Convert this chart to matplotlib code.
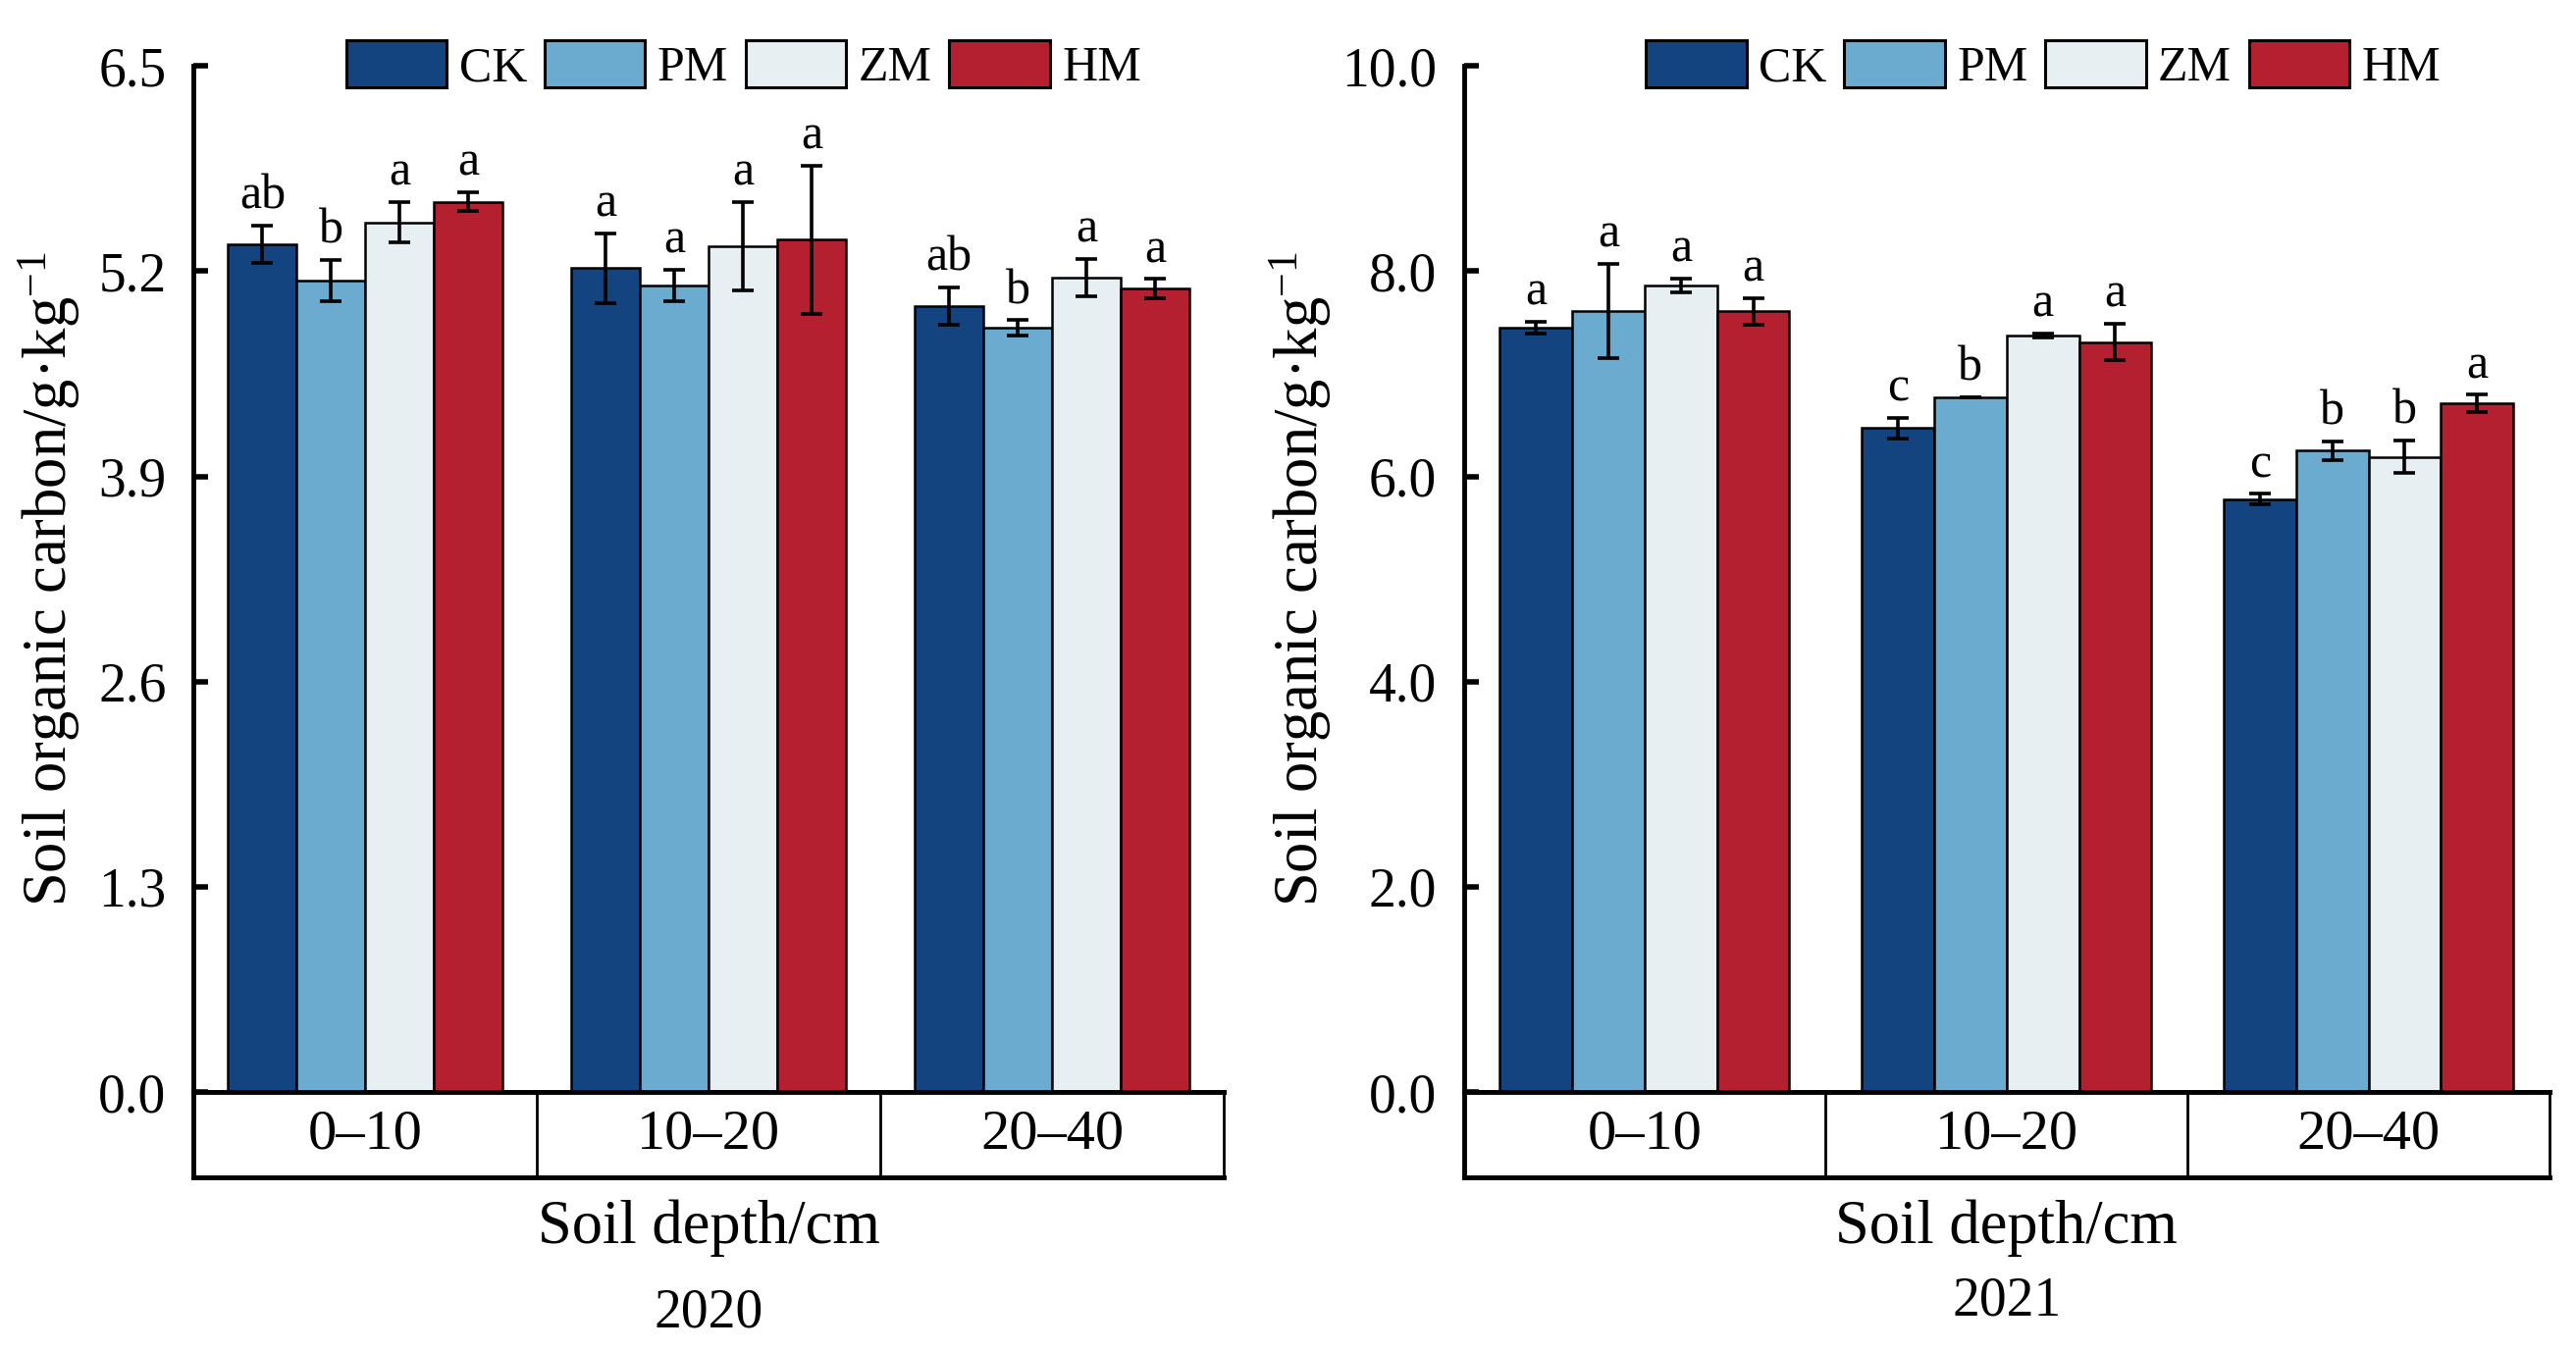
import numpy as np
import matplotlib.pyplot as plt
from matplotlib.patches import Patch

plt.rcParams['font.family'] = ['Liberation Serif', 'DejaVu Serif']
plt.rcParams['mathtext.fontset'] = 'custom'
plt.rcParams['mathtext.rm'] = 'Liberation Serif'
plt.rcParams['mathtext.it'] = 'Liberation Serif:italic'

depths = ['0\u201310', '10\u201320', '20\u201340']
treatments = ['CK', 'PM', 'ZM', 'HM']
colors = ['#13447f', '#6babd0', '#e8eff3', '#b52030']

# 2020
soc_2020 = [[5.37, 5.22, 4.98],
            [5.14, 5.11, 4.84],
            [5.51, 5.36, 5.16],
            [5.64, 5.40, 5.09]]
err_2020 = [[0.12, 0.22, 0.12],
            [0.13, 0.10, 0.05],
            [0.13, 0.28, 0.12],
            [0.06, 0.47, 0.06]]
sig_2020 = [['ab', 'a', 'ab'],
            ['b', 'a', 'b'],
            ['a', 'a', 'a'],
            ['a', 'a', 'a']]

# 2021
soc_2021 = [[7.45, 6.47, 5.78],
            [7.61, 6.77, 6.25],
            [7.86, 7.37, 6.19],
            [7.61, 7.31, 6.71]]
err_2021 = [[0.06, 0.10, 0.05],
            [0.46, 0.00, 0.09],
            [0.07, 0.02, 0.16],
            [0.13, 0.18, 0.085]]
sig_2021 = [['a', 'c', 'c'],
            ['a', 'b', 'b'],
            ['a', 'a', 'b'],
            ['a', 'a', 'a']]

ticks_2020 = [0.0, 1.3, 2.6, 3.9, 5.2, 6.5]
ticks_2021 = [0.0, 2.0, 4.0, 6.0, 8.0, 10.0]

fig = plt.figure(figsize=(26.25, 13.76), dpi=100)

panels = [
    (0.0752, 0.3998, soc_2020, err_2020, sig_2020, ticks_2020, '2020', 0.027, -0.108),
    (0.5682, 0.4215, soc_2021, err_2021, sig_2021, ticks_2021, '2021', 0.036, -0.12),
]

w = 0.2
x = np.arange(len(depths))
for left, width, vals, errs, sigs, yt, year, yy, ylx in panels:
    ax = fig.add_axes([left, 0.1911, width, 0.760])
    box = fig.add_axes([left, 0.128, width, 0.0632])
    ymax = yt[-1]
    for i, t in enumerate(treatments):
        pos = x + (i - 1.5) * w
        ax.bar(pos, vals[i], w, color=colors[i], edgecolor='black', linewidth=1.8, zorder=2)
        ax.errorbar(pos, vals[i], yerr=errs[i], fmt='none', ecolor='black',
                    elinewidth=2.6, capsize=8, capthick=2.6, zorder=3)
        for j in range(len(depths)):
            ax.text(pos[j], vals[i][j] + errs[i][j] + ymax * 0.006, sigs[i][j],
                    ha='center', va='bottom', fontsize=36)
    ax.set_xlim(-0.5, 2.5)
    ax.set_ylim(0, ymax)
    ax.set_yticks(yt)
    ax.set_yticklabels(['%.1f' % v for v in yt])
    ax.set_xticks([])
    ax.tick_params(axis='y', direction='in', length=11, width=4, labelsize=40, pad=20)
    for s in ['top', 'right']:
        ax.spines[s].set_visible(False)
    ax.spines['left'].set_linewidth(3.5)
    ax.spines['bottom'].set_linewidth(3.5)
    ax.set_ylabel('Soil organic carbon/g\u00b7kg$^{\u2212 1}$', fontsize=45)
    ax.yaxis.set_label_coords(ylx, 0.5)

    handles = [Patch(facecolor=c, edgecolor='black', linewidth=2.2) for c in colors]
    ax.legend(handles, treatments, loc='center', bbox_to_anchor=(0.534, 1.0), ncol=4,
              frameon=False, fontsize=36, handlelength=2.05, handleheight=1.1,
              handletextpad=0.25, columnspacing=0.35)

    box.set_xlim(-0.5, 2.5)
    box.set_ylim(0, 1)
    box.set_xticks([])
    box.set_yticks([])
    for s in ['top', 'bottom', 'left']:
        box.spines[s].set_linewidth(3.5)
    box.spines['right'].set_linewidth(2)
    for b in [0.5, 1.5]:
        box.axvline(b, color='black', linewidth=2)
    for j, d in enumerate(depths):
        box.text(j, 0.5, d, ha='center', va='center', fontsize=42)

    cx = left + width / 2
    fig.text(cx, 0.090, 'Soil depth/cm', ha='center', va='center', fontsize=45)
    fig.text(cx, yy, year, ha='center', va='center', fontsize=40)

fig.savefig('out.png', dpi=100)
